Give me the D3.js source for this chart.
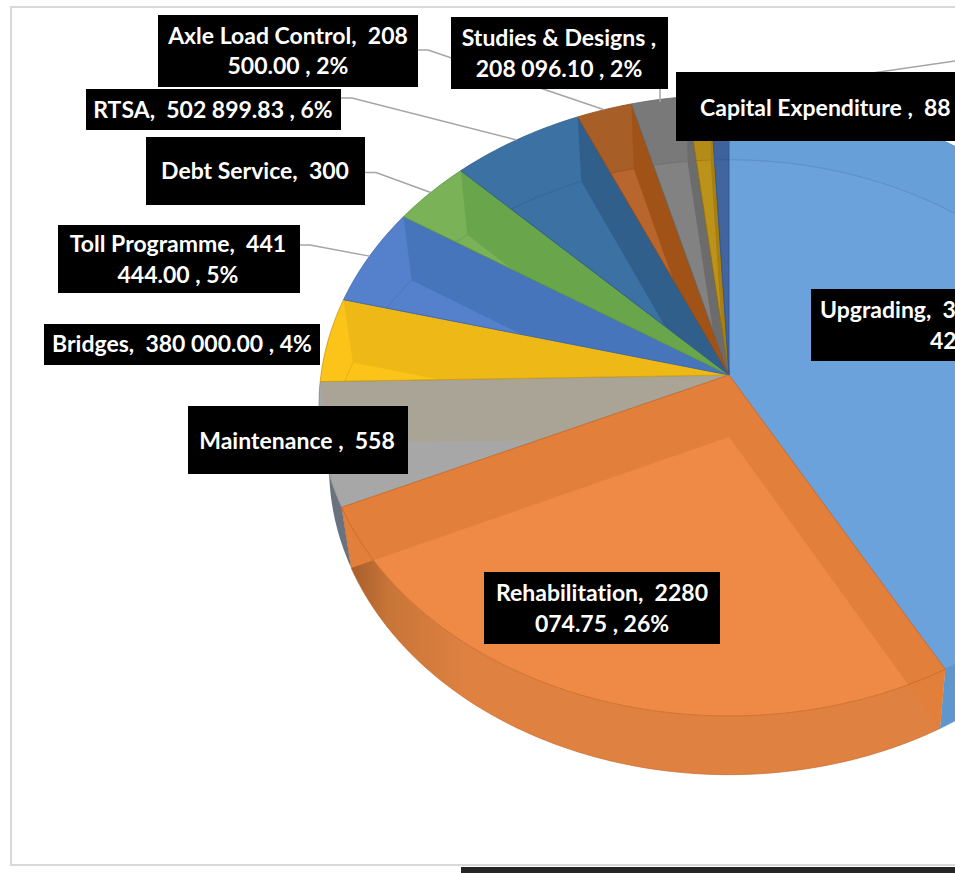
<!DOCTYPE html>
<html>
<head>
<meta charset="utf-8">
<style>html,body{margin:0;padding:0;background:#fff;overflow:hidden}svg{display:block}</style>
<script src="https://cdn.jsdelivr.net/npm/d3@7/dist/d3.min.js"></script>
</head>
<body>
<svg id="chart" width="955" height="873"></svg>
<script>
// ---- data ----
const categories = ["Upgrading","Rehabilitation","Maintenance","Bridges","Toll Programme","Debt Service","RTSA","Axle Load Control","Studies & Designs","Capital Expenditure","Other"];
const values = [3640000,2280074.75,558000,380000,441444,300000,502899.83,208500,208096.10,88000,70000];
// ---- label texts as visible in the picture ----
const labelLines = [
  ["Upgrading,  3","42"],
  ["Rehabilitation,  2280","074.75 , 26%"],
  ["Maintenance ,  558"],
  ["Bridges,  380 000.00 , 4%"],
  ["Toll Programme,  441","444.00 , 5%"],
  ["Debt Service,  300"],
  ["RTSA,  502 899.83 , 6%"],
  ["Axle Load Control,  208","500.00 , 2%"],
  ["Studies & Designs ,","208 096.10 , 2%"],
  ["Capital Expenditure ,  88"],
  []
];
// ---- styles ----
const floorColors = ["#6ba2dc","#ee8a45","#a7a7a7","#fcc318","#5581cc","#79b257","#3b71a3","#b8652e","#828282","#bb921a","#41659f"];
const wallColors  = ["#659cd5","#e27f3b","#a9a495","#eeb816","#4775bb","#69a54a","#2f5f8a","#a15217","#6c6c6c","#a87f10","#34609f"];
const faceColors  = ["#679fd8","#ee8a45","#a7a7a7","#fcc318","#5581cc","#79b257","#3b71a3","#a85e27","#797979","#b38c18","#3d629c"];
const bandColors  = ["#5f96cd","#df8241","#6a7280","#e3ab14","#4d78bf","#72ab50","#3a6e9f","#a85e27","#797979","#b38c18","#3d629c"];
const edgeColors  = ["#5a8fc8","#c8692a","#8f8f86","#c99a12","#4068a8","#5d9440","#2f5f8a","#8c4a18","#666666","#8c6c10","#2f5590"];
// slices whose outer wall shows below the rim
const frontSlices = ["Upgrading","Rehabilitation","Maintenance"];
// ---- layout ----
const boxes = [
  {x0:811,y0:289,x1:1200,y1:361,anchor:"start",tx:[820,930],ty:[310,341]},
  {x0:484,y0:572,x1:720,y1:644,anchor:"middle",tx:[602,602],ty:[593,624]},
  {x0:188,y0:406,x1:408,y1:474,anchor:"middle",tx:[297],ty:[441]},
  {x0:44,y0:324,x1:320,y1:365,anchor:"middle",tx:[182],ty:[344]},
  {x0:58,y0:225,x1:300,y1:293,anchor:"middle",tx:[178,178],ty:[244,275]},
  {x0:146,y0:137,x1:365,y1:205,anchor:"middle",tx:[255],ty:[171]},
  {x0:86,y0:89,x1:341,y1:130,anchor:"middle",tx:[213],ty:[110]},
  {x0:158,y0:15,x1:418,y1:87,anchor:"middle",tx:[288,288],ty:[36,66]},
  {x0:451,y0:17,x1:668,y1:89,anchor:"middle",tx:[559,559],ty:[38,69]},
  {x0:676,y0:72,x1:1200,y1:141,anchor:"start",tx:[700],ty:[108]}
];
const leaderStarts = {
  4:[[300,245],[310,245]],
  5:[[365,172.5],[376,172.5]],
  6:[[341,98],[352,98]],
  7:[[418,50],[428,50]],
  8:[[660,89]],
  10:[[955,61]]
};

const svg = d3.select("#chart");
const defs = svg.append("defs");

// frame and dark strip
svg.append("rect").attr("x",11).attr("y",7).attr("width",1100).attr("height",858)
  .attr("fill","#fff").attr("stroke","#d9d9d9").attr("stroke-width",2);
svg.append("rect").attr("x",461).attr("y",867).attr("width",494).attr("height",6).attr("fill","#262626");

// perspective projection of the disc: level 0 = top face, level 1 = lower face
const cx = 729, persp = -0.0982;
const cyAt = d3.scaleLinear().domain([0,1]).range([375,437]);
const aAt  = d3.scaleLinear().domain([0,1]).range([408,398]);
const bAt  = d3.scaleLinear().domain([0,1]).range([307.5,304.5]);
function project(theta, level, r=1){
  const X = r*Math.sin(theta), Y = -r*Math.cos(theta), w = 1+persp*Y;
  return [cx+aAt(level)*X/w, cyAt(level)+bAt(level)*Y/w];
}
const line = d3.line();
function arcPts(a0,a1,level){
  const n = Math.max(2,Math.ceil((a1-a0)/0.02));
  return d3.range(n+1).map(i=>project(a0+(a1-a0)*i/n,level));
}
const pie = d3.pie().sort(null).value(d=>d);
const arcs = pie(values);
const centre = lvl=>[cx,cyAt(lvl)];
const facePath  = d=>line([centre(0),...arcPts(d.startAngle,d.endAngle,0)])+"Z";
const floorPath = d=>line([centre(1),...arcPts(d.startAngle,d.endAngle,1)])+"Z";
const bandPath  = d=>line([...arcPts(d.startAngle,d.endAngle,0),...arcPts(d.startAngle,d.endAngle,1).reverse()])+"Z";
const wallPath  = a=>line([centre(0),project(a,0),project(a,1),centre(1)])+"Z";

// gradient darkening the far-left end of the front wall
const grad = defs.append("linearGradient").attr("id","rehabBand")
  .attr("gradientUnits","userSpaceOnUse").attr("x1",345).attr("x2",470).attr("y1",0).attr("y2",0);
grad.append("stop").attr("offset",0).attr("stop-color","#a25a2a");
grad.append("stop").attr("offset",0.35).attr("stop-color","#c87538");
grad.append("stop").attr("offset",1).attr("stop-color",bandColors[1]);

// paint Rehabilitation last: its front wall overlaps its neighbours' walls
const order = d3.range(arcs.length).filter(i=>i!==1).concat([1]);
const pieG = svg.append("g");
order.forEach(i=>{
  const d = arcs[i], front = frontSlices.includes(categories[i]);
  const fc = defs.append("clipPath").attr("id","face"+i);
  fc.append("path").attr("d",facePath(d));
  const uc = defs.append("clipPath").attr("id","union"+i);
  uc.append("path").attr("d",facePath(d));
  if(front) uc.append("path").attr("d",bandPath(d));
  const g = pieG.append("g").attr("class","slice");
  if(front) g.append("path").attr("d",bandPath(d)).attr("fill",i===1?"url(#rehabBand)":bandColors[i]);
  g.append("path").attr("d",facePath(d)).attr("fill",faceColors[i]);
  g.append("path").attr("d",floorPath(d)).attr("fill",floorColors[i]).attr("clip-path",`url(#face${i})`);
  g.append("path").attr("d",line(arcPts(d.startAngle,d.endAngle,1))).attr("fill","none")
    .attr("stroke",edgeColors[i]).attr("stroke-opacity",0.45).attr("clip-path",`url(#face${i})`);
  const wg = g.append("g").attr("clip-path",`url(#union${i})`);
  wg.append("path").attr("d",wallPath(d.startAngle)).attr("fill",wallColors[i]);
  wg.append("path").attr("d",wallPath(d.endAngle)).attr("fill",wallColors[i]);
  g.append("path").attr("d",facePath(d)).attr("fill","none")
    .attr("stroke",edgeColors[i]).attr("stroke-width",1).attr("stroke-opacity",0.8);
  if(i===1 || i===0){
    g.append("path").attr("d",line(arcPts(d.startAngle,d.endAngle,1))).attr("fill","none")
      .attr("stroke",edgeColors[i]).attr("stroke-opacity",0.7);
  }
});

// leader lines
Object.keys(leaderStarts).forEach(k=>{
  const i = +k, d = arcs[i];
  const mid = i===8 ? null : project((d.startAngle+d.endAngle)/2,0);
  const pts = i===8 ? [leaderStarts[k][0],[660,102]] : [...leaderStarts[k],mid];
  svg.append("path").attr("d",line(pts)).attr("fill","none")
    .attr("stroke","#a5a5a5").attr("stroke-width",1.5);
});

// label boxes
boxes.forEach((b,i)=>{
  svg.append("rect").attr("x",b.x0).attr("y",b.y0).attr("width",b.x1-b.x0).attr("height",b.y1-b.y0).attr("fill","#000");
  labelLines[i].forEach((t,j)=>{
    svg.append("text").attr("x",b.tx[j]).attr("y",b.ty[j])
      .attr("dy","0.35em").attr("text-anchor",b.anchor)
      .attr("font-family","Lato, 'Open Sans', sans-serif").attr("font-weight",700)
      .attr("font-size",23).attr("fill","#fff")
      .style("white-space","pre").style("font-variant-ligatures","none").text(t);
  });
});
</script>
</body>
</html>
